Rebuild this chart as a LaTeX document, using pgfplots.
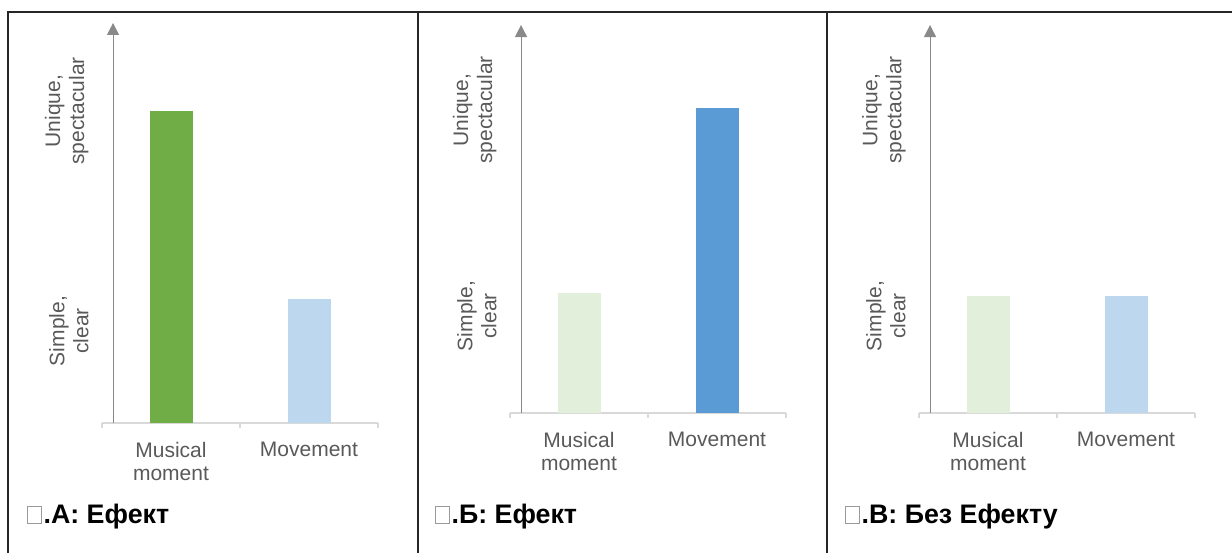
\documentclass[border=0pt]{standalone}
\usepackage{pgfplots}
\pgfplotsset{compat=1.18}
\usepackage{fontspec}
\setmainfont{Liberation Sans}
\usetikzlibrary{arrows.meta}
\definecolor{frame}{HTML}{262626}
\definecolor{lbl}{HTML}{595959}
\definecolor{axg}{HTML}{898989}
\definecolor{catg}{HTML}{D9D9D9}
\definecolor{gdark}{HTML}{70AD47}
\definecolor{glight}{HTML}{E2EFDA}
\definecolor{bdark}{HTML}{5B9BD5}
\definecolor{blight}{HTML}{BDD7EE}
\definecolor{tofu}{HTML}{9A9A9A}
\newcommand{\tofu}{{\color{tofu}\setlength{\fboxrule}{0.5pt}\setlength{\fboxsep}{0pt}\fbox{\rule{0pt}{8pt}\hspace{6.5pt}}}\hspace{0.6pt}}
\pgfplotsset{
  panel/.style={
    x=69pt, y=0.5pt,
    xmin=-0.5, xmax=1.5, ymin=0,
    clip=false,
    axis line style={draw=none},
    major tick length=0pt,
    ybar, bar width=21.5pt,
    xtick={0,1},
    xticklabels={{Musical\\moment},{Movement}},
    xticklabel style={align=center, anchor=north, inner sep=0pt, yshift=-9.5pt,
      font=\fontsize{10.5}{11.5}\selectfont, text=lbl},
    yticklabels={{Simple,\\clear},{Unique,\\spectacular}},
    yticklabel style={xshift=-6.5pt, rotate=90, anchor=south, align=center, inner sep=0pt,
      font=\fontsize{10.5}{12}\selectfont, text=lbl},
  }
}
\newcommand{\panelaxes}[1]{%
  \draw[catg, line width=0.6pt] (axis cs:-0.5,0) -- (axis cs:1.5,0);
  \draw[catg, line width=0.6pt] (axis cs:-0.5,0) -- ++(0pt,-2.5pt);
  \draw[catg, line width=0.6pt] (axis cs:0.5,0) -- ++(0pt,-2.5pt);
  \draw[catg, line width=0.6pt] (axis cs:1.5,0) -- ++(0pt,-2.5pt);
  \draw[axg, line width=0.5pt, -{Triangle[width=6pt,length=6pt]}] (axis cs:-0.42,0) -- (axis cs:-0.42,#1);
}
\begin{document}
\begin{tikzpicture}
\useasboundingbox (0pt,0pt) rectangle (616pt,276.5pt);
% frame
\draw[frame, line width=1pt] (4pt,0pt) -- (4pt,270.5pt) -- (616pt,270.5pt);
\draw[frame, line width=1pt] (209pt,0pt) -- (209pt,270.5pt);
\draw[frame, line width=1pt] (413.5pt,0pt) -- (413.5pt,270.5pt);

% Panel A
\begin{axis}[panel, at={(51pt,65pt)}, anchor=south west, ymax=400, ytick={92,312}]
\panelaxes{400}
\addplot[fill=gdark, draw=none, bar shift=0pt] coordinates {(0,312)};
\addplot[fill=blight, draw=none, bar shift=0pt] coordinates {(1,124)};
\end{axis}

% Panel B
\begin{axis}[panel, at={(255pt,70pt)}, anchor=south west, ymax=388, ytick={97,303}]
\panelaxes{388}
\addplot[fill=glight, draw=none, bar shift=0pt] coordinates {(0,120)};
\addplot[fill=bdark, draw=none, bar shift=0pt] coordinates {(1,305)};
\end{axis}

% Panel C
\begin{axis}[panel, at={(459.5pt,70pt)}, anchor=south west, ymax=388, ytick={97,303}]
\panelaxes{388}
\addplot[fill=glight, draw=none, bar shift=0pt] coordinates {(0,117)};
\addplot[fill=blight, draw=none, bar shift=0pt] coordinates {(1,117)};
\end{axis}

% titles
\node[anchor=base west, inner sep=0pt, font=\fontsize{13.4}{15}\selectfont\bfseries] at (13.5pt,15pt) {\tofu.А: Ефект};
\node[anchor=base west, inner sep=0pt, font=\fontsize{13.4}{15}\selectfont\bfseries] at (217.5pt,15pt) {\tofu.Б: Ефект};
\node[anchor=base west, inner sep=0pt, font=\fontsize{13.4}{15}\selectfont\bfseries] at (422.5pt,15pt) {\tofu.В: Без Ефекту};
\end{tikzpicture}
\end{document}
